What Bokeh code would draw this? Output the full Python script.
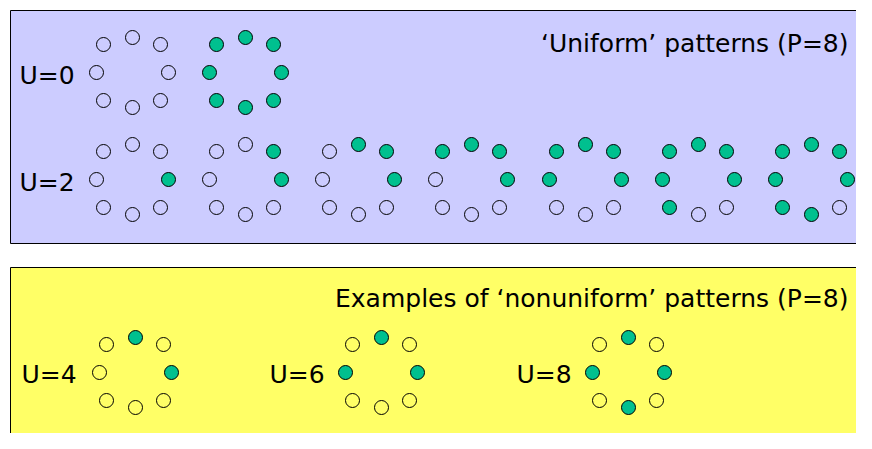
from bokeh.plotting import figure
from bokeh.models import ColumnDataSource
from bokeh.core.properties import value
from bokeh.embed import file_html
from bokeh.resources import INLINE

# ring of 8 neighbours: offsets in pixels, index 0 = right, counter-clockwise
ring_dx = [36, 28, 0, -29, -36, -29, 0, 28]
ring_dy = [0, -28, -35, -28, 0, 28, 35, 28]

# uniform patterns: centre x, centre y, bits (1 = green)
uni_cx = [132, 245, 132, 245, 358, 471, 585, 698, 811]
uni_cy = [72, 72, 179, 179, 179, 179, 179, 179, 179]
uni_bits = [
    [0, 0, 0, 0, 0, 0, 0, 0],
    [1, 1, 1, 1, 1, 1, 1, 1],
    [1, 0, 0, 0, 0, 0, 0, 0],
    [1, 1, 0, 0, 0, 0, 0, 0],
    [1, 1, 1, 0, 0, 0, 0, 0],
    [1, 1, 1, 1, 0, 0, 0, 0],
    [1, 1, 1, 1, 1, 0, 0, 0],
    [1, 1, 1, 1, 1, 1, 0, 0],
    [1, 1, 1, 1, 1, 1, 1, 0],
]

# nonuniform examples
non_cx = [135, 381, 628]
non_cy = [372, 372, 372]
non_bits = [
    [1, 0, 1, 0, 0, 0, 0, 0],
    [1, 0, 1, 0, 1, 0, 0, 0],
    [1, 0, 1, 0, 1, 0, 1, 0],
]

labels = ["U=0", "U=2", "U=4", "U=6", "U=8"]
label_x = [19, 19, 21, 269, 516]
label_y = [75, 182, 374, 374, 374]

GREEN = "#00c08f"

p = figure(width=856, height=433, x_range=(0, 856), y_range=(433, 0),
           output_backend="svg", toolbar_location=None, min_border=0)
p.axis.visible = False
p.grid.visible = False
p.outline_line_color = None
p.background_fill_color = "white"

# panels
p.quad(left=[10], right=[862], top=[10], bottom=[243],
       fill_color="#ccccff", line_color="black", line_width=1)
p.quad(left=[10], right=[862], top=[267], bottom=[440],
       fill_color="#ffff66", line_color="black", line_width=1)


def draw(cx, cy, bits):
    xs, ys, fills = [], [], []
    for x0, y0, b in zip(cx, cy, bits):
        for k in range(8):
            xs.append(x0 + ring_dx[k])
            ys.append(y0 + ring_dy[k])
            fills.append(GREEN if b[k] else None)
    src = ColumnDataSource(dict(x=xs, y=ys, f=fills))
    p.scatter("x", "y", source=src, size=14, fill_color="f",
              line_color="black", line_width=1)


draw(uni_cx, uni_cy, uni_bits)
draw(non_cx, non_cy, non_bits)

p.text(label_x, label_y, text=labels, text_font=value("DejaVu Sans"),
       text_font_size="25px", text_baseline="middle", text_color="black")
p.text([848, 848], [43, 298],
       text=["\u2018Uniform\u2019 patterns (P=8)",
             "Examples of \u2018nonuniform\u2019 patterns (P=8)"],
       text_font=value("DejaVu Sans"), text_font_size="25px",
       text_align="right", text_baseline="middle", text_color="black")

open("out.html", "w").write(file_html(p, INLINE))
